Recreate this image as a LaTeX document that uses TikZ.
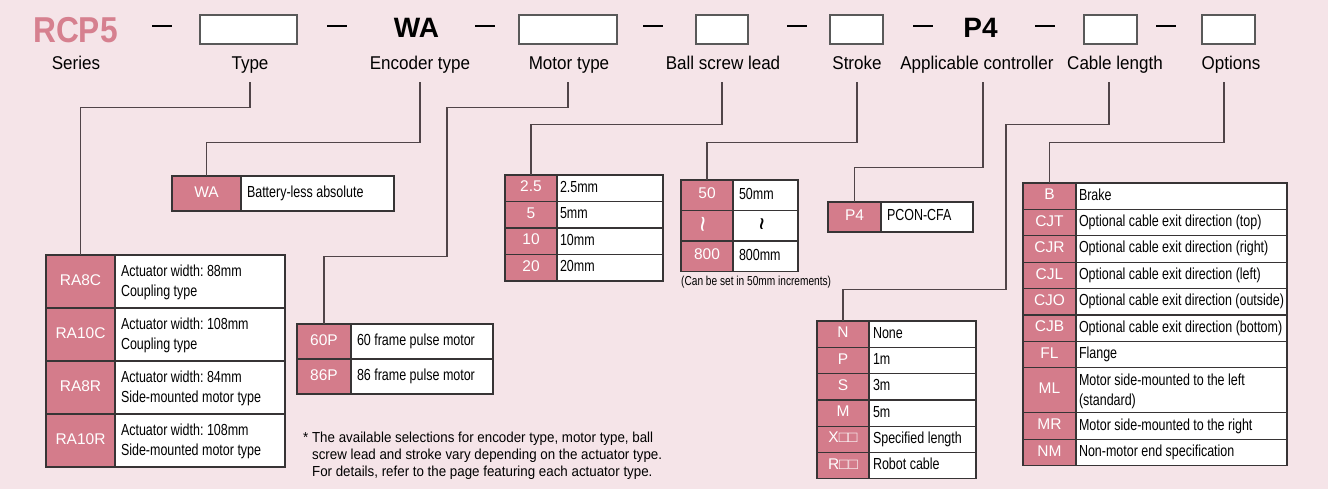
\documentclass[tikz,border=0pt]{standalone}
\usepackage{fontspec}
\setmainfont{Liberation Sans}
\newfontfamily\fieldfont[FakeStretch=0.92]{Liberation Sans}
\newfontfamily\descfont[FakeStretch=0.78]{Liberation Sans}
\newfontfamily\seriesfont[FakeStretch=0.88]{Liberation Sans}
\usetikzlibrary{positioning}

\definecolor{bgpink}{RGB}{245,228,232}
\definecolor{cellpink}{RGB}{212,124,139}
\definecolor{seriespink}{RGB}{214,128,143}
\definecolor{leadgray}{RGB}{80,68,72}
\definecolor{gridgray}{RGB}{55,52,53}

\newcommand{\rangemark}{{\fontsize{28}{28}\selectfont\rotatebox[origin=c]{90}{\textasciitilde}}}

\begin{document}
\frenchspacing
\begin{tikzpicture}[x=1pt, y=-1pt,
    hdrbox/.style={rectangle, draw=gray!70!black, fill=white, line width=1.3pt, minimum height=29pt, inner sep=0pt},
    sepline/.style={line width=1.6pt, black},
    field/.style={font=\fieldfont\fontsize{18.5}{20}\selectfont, anchor=base, inner xsep=0pt, inner ysep=12pt, text depth=0pt},
    codecell/.style={rectangle, draw=gridgray, fill=cellpink, text=white, line width=1.3pt, inner sep=0pt, outer sep=0pt, font=\fontsize{15.5}{18}\selectfont, execute at begin node=\strut},
    desccell/.style={rectangle, draw=gridgray, fill=white, line width=1.3pt, inner xsep=6pt, inner ysep=0pt, outer sep=0pt, align=flush left, font=\descfont\fontsize{16}{20}\selectfont\frenchspacing, execute at begin node=\strut},
    leader/.style={draw=leadgray, line width=1.3pt}
]

% Background
\fill[bgpink] (0,0) rectangle (1328,489);
\useasboundingbox (0,0) rectangle (1328,489);

% Model code
\node[font=\seriesfont\bfseries\fontsize{36}{36}\selectfont, text=seriespink, anchor=base, inner sep=0pt] (series) at (75.5,43) {RCP5};
\node[hdrbox, minimum width=97pt] (typebox) at (248.5,29.5) {};
\node[font=\bfseries\fontsize{28}{28}\selectfont, anchor=base, inner sep=0pt] (hdrwa) at (416.5,38) {WA};
\node[hdrbox, minimum width=98pt] (motorbox) at (568,29.5) {};
\node[hdrbox, minimum width=52pt] (leadbox) at (722,29.5) {};
\node[hdrbox, minimum width=53pt] (strokebox) at (856.5,29.5) {};
\node[font=\bfseries\fontsize{28}{28}\selectfont, anchor=base, inner sep=0pt] (hdrp4) at (980.5,38) {P4};
\node[hdrbox, minimum width=53pt] (cablebox) at (1110.5,29.5) {};
\node[hdrbox, minimum width=53pt] (optbox) at (1228.5,29.5) {};
\foreach \x in {152,327,475,643,787,913,1035,1156}
    \draw[sepline] (\x,26) -- ++(20,0);

% Field names
\node[field] (lblseries) at (76,70) {Series};
\node[field] (lbltype) at (250,70) {Type};
\node[field] (lblenc) at (420,70) {Encoder type};
\node[field] (lblmotor) at (569,70) {Motor type};
\node[field] (lbllead) at (723,70) {Ball screw lead};
\node[field] (lblstroke) at (857,70) {Stroke};
\node[field] (lblctrl) at (977,70) {Applicable controller};
\node[field] (lblcable) at (1115,70) {Cable length};
\node[field] (lbloption) at (1231,70) {Options};

% Type
\begin{scope}[codecell/.append style={minimum width=69pt, minimum height=53pt},
              desccell/.append style={text width=158pt, minimum height=53pt}]
\node[codecell, anchor=north west] (ra8c) at (46,255) {RA8C};
\node[desccell, right=0pt of ra8c] (ra8cdesc) {Actuator width: 88mm\\Coupling type};
\node[codecell, below=0pt of ra8c] (ra10c) {RA10C};
\node[desccell, right=0pt of ra10c] (ra10cdesc) {Actuator width: 108mm\\Coupling type};
\node[codecell, below=0pt of ra10c] (ra8r) {RA8R};
\node[desccell, right=0pt of ra8r] (ra8rdesc) {Actuator width: 84mm\\Side-mounted motor type};
\node[codecell, below=0pt of ra8r] (ra10r) {RA10R};
\node[desccell, right=0pt of ra10r] (ra10rdesc) {Actuator width: 108mm\\Side-mounted motor type};
\end{scope}

% Encoder type
\begin{scope}[codecell/.append style={minimum width=69pt, minimum height=35pt},
              desccell/.append style={text width=141pt, minimum height=35pt}]
\node[codecell, anchor=north west] (wa) at (172,176) {WA};
\node[desccell, right=0pt of wa] (wadesc) {Battery-less absolute};
\end{scope}

% Motor type
\begin{scope}[codecell/.append style={minimum width=54pt, minimum height=35pt},
              desccell/.append style={text width=130pt, minimum height=35pt}]
\node[codecell, anchor=north west] (p60) at (297,324) {60P};
\node[desccell, right=0pt of p60] (p60desc) {60 frame pulse motor};
\node[codecell, below=0pt of p60] (p86) {86P};
\node[desccell, right=0pt of p86] (p86desc) {86 frame pulse motor};
\end{scope}

% Ball screw lead
\begin{scope}[codecell/.append style={minimum width=52pt, minimum height=26.5pt},
              desccell/.append style={inner xsep=3pt, text width=100pt, minimum height=26.5pt}]
\node[codecell, anchor=north west] (l25) at (505,175) {2.5};
\node[desccell, right=0pt of l25] (l25desc) {2.5mm};
\node[codecell, below=0pt of l25] (l5) {5};
\node[desccell, right=0pt of l5] (l5desc) {5mm};
\node[codecell, below=0pt of l5] (l10) {10};
\node[desccell, right=0pt of l10] (l10desc) {10mm};
\node[codecell, below=0pt of l10] (l20) {20};
\node[desccell, right=0pt of l20] (l20desc) {20mm};
\end{scope}

% Stroke
\begin{scope}[codecell/.append style={minimum width=52pt, minimum height=30.5pt},
              desccell/.append style={text width=53pt, minimum height=30.5pt}]
\node[codecell, anchor=north west] (s50) at (681,180) {50};
\node[desccell, right=0pt of s50] (s50desc) {50mm};
\node[codecell, below=0pt of s50] (swave) {\rangemark};
\node[desccell, right=0pt of swave, align=center] (swavedesc) {\rangemark};
\node[codecell, below=0pt of swave] (s800) {800};
\node[desccell, right=0pt of s800] (s800desc) {800mm};
\end{scope}
\node[font=\descfont\fontsize{13}{15}\selectfont, anchor=north west, inner sep=0pt] (incnote) at ([yshift=-4pt]s800.south west) {(Can be set in 50mm increments)};

% Applicable controller
\begin{scope}[codecell/.append style={minimum width=53pt, minimum height=30pt},
              desccell/.append style={text width=80pt, minimum height=30pt}]
\node[codecell, anchor=north west] (p4) at (828,202) {P4};
\node[desccell, right=0pt of p4] (p4desc) {PCON-CFA};
\end{scope}

% Cable length
\begin{scope}[codecell/.append style={minimum width=52pt, minimum height=26.3pt},
              desccell/.append style={inner xsep=4pt, text width=99pt, minimum height=26.3pt}]
\node[codecell, anchor=north west] (cn) at (817,321) {N};
\node[desccell, right=0pt of cn] (cndesc) {None};
\node[codecell, below=0pt of cn] (cp) {P};
\node[desccell, right=0pt of cp] (cpdesc) {1m};
\node[codecell, below=0pt of cp] (cs) {S};
\node[desccell, right=0pt of cs] (csdesc) {3m};
\node[codecell, below=0pt of cs] (cm) {M};
\node[desccell, right=0pt of cm] (cmdesc) {5m};
\node[codecell, below=0pt of cm] (cx) {X□□};
\node[desccell, right=0pt of cx] (cxdesc) {Specified length};
\node[codecell, below=0pt of cx] (cr) {R□□};
\node[desccell, right=0pt of cr] (crdesc) {Robot cable};
\end{scope}

% Options
\begin{scope}[codecell/.append style={minimum width=53pt, minimum height=26.4pt},
              desccell/.append style={inner xsep=3pt, text width=205pt, minimum height=26.4pt}]
\node[codecell, anchor=north west] (ob) at (1023,183) {B};
\node[desccell, right=0pt of ob] (obdesc) {Brake};
\node[codecell, below=0pt of ob] (ocjt) {CJT};
\node[desccell, right=0pt of ocjt] (ocjtdesc) {Optional cable exit direction (top)};
\node[codecell, below=0pt of ocjt] (ocjr) {CJR};
\node[desccell, right=0pt of ocjr] (ocjrdesc) {Optional cable exit direction (right)};
\node[codecell, below=0pt of ocjr] (ocjl) {CJL};
\node[desccell, right=0pt of ocjl] (ocjldesc) {Optional cable exit direction (left)};
\node[codecell, below=0pt of ocjl] (ocjo) {CJO};
\node[desccell, right=0pt of ocjo] (ocjodesc) {Optional cable exit direction (outside)};
\node[codecell, below=0pt of ocjo] (ocjb) {CJB};
\node[desccell, right=0pt of ocjb] (ocjbdesc) {Optional cable exit direction (bottom)};
\node[codecell, below=0pt of ocjb] (ofl) {FL};
\node[desccell, right=0pt of ofl] (ofldesc) {Flange};
\node[codecell, below=0pt of ofl, minimum height=45pt] (oml) {ML};
\node[desccell, right=0pt of oml, minimum height=45pt] (omldesc) {Motor side-mounted to the left\\(standard)};
\node[codecell, below=0pt of oml] (omr) {MR};
\node[desccell, right=0pt of omr] (omrdesc) {Motor side-mounted to the right};
\node[codecell, below=0pt of omr] (onm) {NM};
\node[desccell, right=0pt of onm] (onmdesc) {Non-motor end specification};
\end{scope}

% Leader lines
\draw[leader] (lbltype.south) -- ++(0,25) -| (ra8c.north);
\draw[leader] (lblenc.south) -- ++(0,60) -| (wa.north);
\draw[leader] ([xshift=-1pt]lblmotor.south) -- ++(0,25) -| ++(-121,149) -| (p60.north);
\draw[leader] ([xshift=-1pt]lbllead.south) -- ++(0,42) -| (l25.north);
\draw[leader] (lblstroke.south) -- ++(0,60) -| (s50.north);
\draw[leader] ([xshift=6pt]lblctrl.south) -- ++(0,85) -| (p4.north);
\draw[leader] ([xshift=-6pt]lblcable.south) -- ++(0,42) -| ++(-103,165) -| (cn.north);
\draw[leader] ([xshift=-7pt]lbloption.south) -- ++(0,60) -| (ob.north);

% Note
\node[font=\fieldfont\fontsize{14.5}{17}\selectfont, anchor=north west, align=left, inner sep=0pt] (footnote) at (303,432) {* The available selections for encoder type, motor type, ball\\\phantom{* }screw lead and stroke vary depending on the actuator type.\\\phantom{* }For details, refer to the page featuring each actuator type.};

\end{tikzpicture}
\end{document}
